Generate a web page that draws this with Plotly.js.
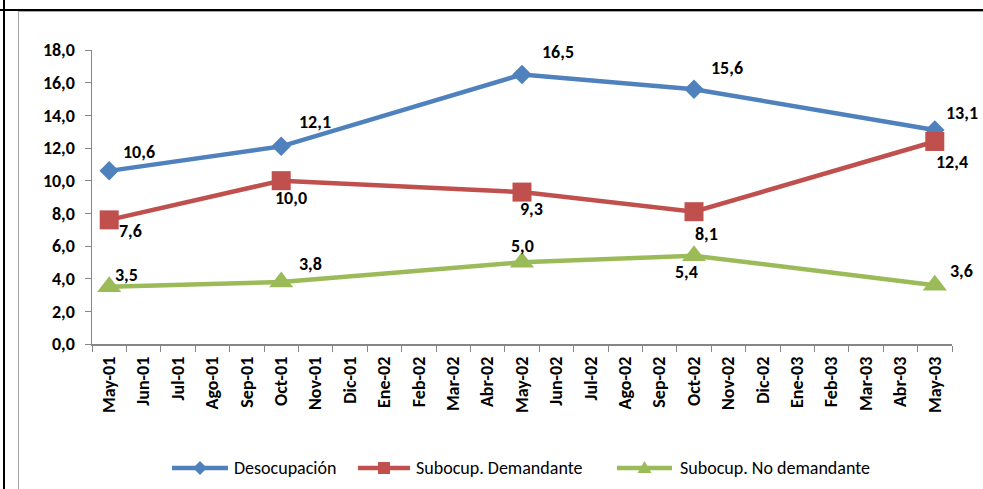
<!DOCTYPE html>
<html>
<head>
<meta charset="utf-8">
<script src="https://cdn.plot.ly/plotly-3.0.1.min.js"></script>
<style>
  html, body { margin: 0; padding: 0; background: #fff; }
  #wrap { position: relative; width: 983px; height: 489px; overflow: hidden; }
  #chart { position: absolute; left: 0; top: 0; width: 983px; height: 489px; }
  .ln { position: absolute; pointer-events: none; }
</style>
</head>
<body>
<div id="wrap">
  <div id="chart"></div>
  <div class="ln" style="left:0;top:9px;width:983px;height:2px;background:#000;"></div>
  <div class="ln" style="left:3px;top:0;width:2px;height:489px;background:#000;"></div>
  <div class="ln" style="left:18px;top:11px;width:965px;height:1px;background:#a6a6a6;"></div>
  <div class="ln" style="left:18px;top:11px;width:1px;height:478px;background:#a6a6a6;"></div>
</div>
<script>
// ---- data ----
var months = ['May-01','Jun-01','Jul-01','Ago-01','Sep-01','Oct-01','Nov-01','Dic-01',
              'Ene-02','Feb-02','Mar-02','Abr-02','May-02','Jun-02','Jul-02','Ago-02',
              'Sep-02','Oct-02','Nov-02','Dic-02','Ene-03','Feb-03','Mar-03','Abr-03','May-03'];
var obsMonths = ['May-01','Oct-01','May-02','Oct-02','May-03'];
var desocupacion = [10.6, 12.1, 16.5, 15.6, 13.1];
var subDemandante = [7.6, 10.0, 9.3, 8.1, 12.4];
var subNoDemandante = [3.5, 3.8, 5.0, 5.4, 3.6];
var seriesNames = ['Desocupación', 'Subocup. Demandante', 'Subocup. No demandante'];

// ---- styles ----
var colors = ['#4F81BD', '#C0504D', '#9BBB59'];
var symbols = ['diamond', 'square', 'triangle-up'];
var markerSizes = [15, 19, 21];
// label offsets in pixels [dx, dy(up positive)]
var labelOffsets = [
  [[30,19],[34,24],[36,23],[33,21],[27,17]],
  [[21,-11],[10,-17],[9,-17],[12,-22],[17,-21]],
  [[17,12],[29,18],[0,16],[-8,-16],[27,14]]
];
var FONT = 'Carlito, Lato, "Open Sans", sans-serif';
var M = { l: 92, r: 31, t: 50, b: 145 };
var W = 983, H = 489;
var PW = W - M.l - M.r, PH = H - M.t - M.b;
function px2x(px) { return (px - M.l) / PW; }
function px2y(py) { return (H - M.b - py) / PH; }
// manual legend geometry (pixels): line start, line end, text start; row y
var legendLine = [[172, 228, 232], [358, 410, 414], [617, 672, 678]];
var legendRowY = 468;
var legendMarkerPaths = [
  'M0,-7L7,0L0,7L-7,0Z',
  'M-6,-6H6V6H-6Z',
  'M-7,-5H7L0,7Z'
];

function fmt(v) { return v.toFixed(1).replace('.', ','); }

var allSeries = [desocupacion, subDemandante, subNoDemandante];
var traces = allSeries.map(function (vals, i) {
  return {
    type: 'scatter',
    mode: 'lines+markers',
    name: seriesNames[i],
    x: obsMonths,
    y: vals,
    line: { color: colors[i], width: 4.5 },
    marker: { color: colors[i], symbol: symbols[i], size: markerSizes[i], line: { width: 0 } },
    hoverinfo: 'skip',
    showlegend: false
  };
});

var annotations = [];
allSeries.forEach(function (vals, i) {
  vals.forEach(function (v, j) {
    annotations.push({
      x: obsMonths[j], y: v, xref: 'x', yref: 'y',
      text: fmt(v), showarrow: false,
      xshift: labelOffsets[i][j][0], yshift: labelOffsets[i][j][1],
      font: { family: FONT, size: 18, color: '#000', weight: 'bold' }
    });
  });
});

var shapes = [];
seriesNames.forEach(function (name, i) {
  var g = legendLine[i];
  shapes.push({
    type: 'line', xref: 'paper', yref: 'paper',
    x0: px2x(g[0]), x1: px2x(g[1]), y0: px2y(legendRowY), y1: px2y(legendRowY),
    line: { color: colors[i], width: 4.5 }
  });
  shapes.push({
    type: 'path', xref: 'paper', yref: 'paper',
    xsizemode: 'pixel', ysizemode: 'pixel',
    xanchor: px2x((g[0] + g[1]) / 2), yanchor: px2y(legendRowY),
    path: legendMarkerPaths[i],
    fillcolor: colors[i], line: { width: 0 }
  });
  annotations.push({
    xref: 'paper', yref: 'paper', x: px2x(g[2]), y: px2y(legendRowY),
    xanchor: 'left', yanchor: 'middle', showarrow: false,
    text: name, font: { family: FONT, size: 18, color: '#000' }
  });
});

var layout = {
  width: W, height: H,
  margin: M,
  paper_bgcolor: '#fff', plot_bgcolor: '#fff',
  separators: ',.',
  showlegend: false,
  xaxis: {
    type: 'category',
    categoryorder: 'array', categoryarray: months,
    tickvals: months, ticktext: months,
    range: [-0.5, months.length - 0.5],
    tickson: 'boundaries',
    ticks: 'outside', ticklen: 6, tickcolor: '#868686', tickwidth: 1,
    showline: true, linecolor: '#868686', linewidth: 1.5,
    showgrid: false, zeroline: false,
    tickangle: -90, ticklabelstandoff: 4,
    tickfont: { family: FONT, size: 18, color: '#000', weight: 'bold' }
  },
  yaxis: {
    range: [0, 18], dtick: 2, tick0: 0,
    tickformat: '.1f',
    ticks: 'outside', ticklen: 6, tickcolor: '#868686', tickwidth: 1,
    showline: true, linecolor: '#868686', linewidth: 1.5,
    showgrid: false, zeroline: false, ticklabelstandoff: 6,
    tickfont: { family: FONT, size: 18, color: '#000', weight: 'bold' }
  },
  shapes: shapes,
  annotations: annotations
};

Plotly.newPlot('chart', traces, layout, { staticPlot: true, displayModeBar: false });
</script>
</body>
</html>
